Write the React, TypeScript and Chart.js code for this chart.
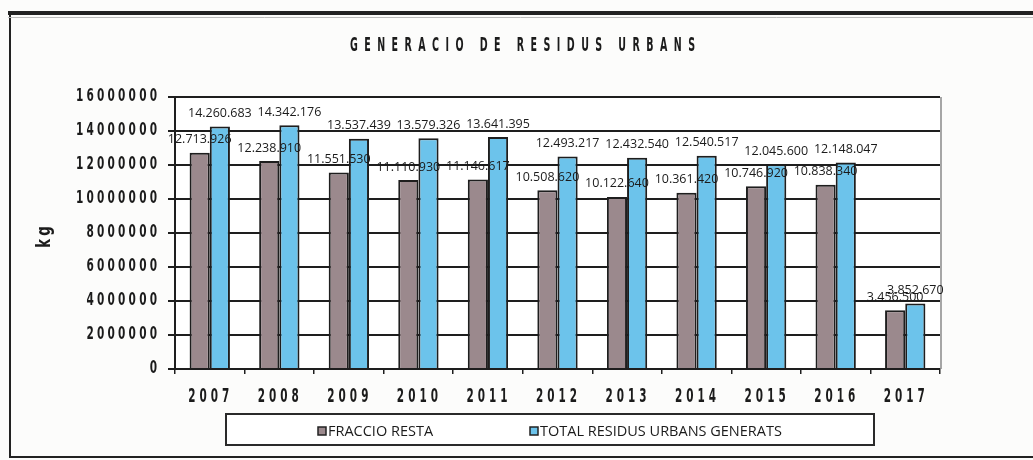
import React, { useEffect, useRef } from "react";
import { Chart, registerables } from "chart.js";

Chart.register(...registerables);

const years = ["2007", "2008", "2009", "2010", "2011", "2012", "2013", "2014", "2015", "2016", "2017"];
const fraccioResta = [12713926, 12238910, 11551530, 11110930, 11146617, 10508620, 10122640, 10361420, 10746920, 10838340, 3456500];
const totalResidus = [14260683, 14342176, 13537439, 13579326, 13641395, 12493217, 12432540, 12540517, 12045600, 12148047, 3852670];
const seriesNames = ["FRACCIO RESTA", "TOTAL RESIDUS URBANS GENERATS"];
const seriesColors = ["#9b898d", "#6cc3eb"];
const chartTitle = "GENERACIO DE RESIDUS URBANS";
const yTitle = "kg";

const W = 1033;
const H = 460;
const HEAVY = "'DejaVu Sans', sans-serif";
const INK = "#1b1b1b";

function fmt(v: number): string {
  return String(Math.round(v)).replace(/\B(?=(\d{3})+(?!\d))/g, ".");
}

// draw condensed, letter-spaced bold text
function drawSpaced(
  ctx: CanvasRenderingContext2D,
  text: string,
  x: number,
  y: number,
  align: "left" | "center" | "right",
  size: number,
  sx: number,
  spacing: number,
  totalWidth?: number
) {
  ctx.save();
  (ctx as any).letterSpacing = "0px";
  ctx.font = `bold ${size}px ${HEAVY}`;
  ctx.textAlign = "left";
  ctx.textBaseline = "middle";
  const chars = text.split("");
  const adv = chars.map((c) => ctx.measureText(c).width * sx);
  const glyphSum = adv.reduce((s, a) => s + a, 0);
  let sp = spacing;
  if (totalWidth !== undefined && chars.length > 1) {
    sp = (totalWidth - glyphSum) / (chars.length - 1);
  }
  const total = glyphSum + sp * (chars.length - 1);
  let cx = align === "left" ? x : align === "center" ? x - total / 2 : x - total;
  chars.forEach((c, i) => {
    if (c !== " ") {
      ctx.save();
      ctx.translate(cx, y);
      ctx.scale(sx, 1);
      ctx.fillText(c, 0, 0);
      ctx.restore();
    }
    cx += adv[i] + sp;
  });
  ctx.restore();
}

const decorPlugin = {
  id: "decor",
  beforeDraw(chart: any) {
    const ctx = chart.ctx;
    ctx.save();
    ctx.fillStyle = "#fcfcfb";
    ctx.fillRect(0, 0, W, H);
    ctx.strokeStyle = "#222";
    ctx.lineWidth = 4;
    ctx.beginPath();
    ctx.moveTo(8, 13);
    ctx.lineTo(W, 13);
    ctx.stroke();
    ctx.lineWidth = 2;
    ctx.beginPath();
    ctx.moveTo(10, 13);
    ctx.lineTo(10, 457);
    ctx.lineTo(W, 457);
    ctx.stroke();
    ctx.strokeStyle = "#bbb";
    ctx.lineWidth = 1;
    ctx.beginPath();
    ctx.moveTo(8, 17.5);
    ctx.lineTo(W, 17.5);
    ctx.stroke();
    const a = chart.chartArea;
    ctx.fillStyle = "#ffffff";
    ctx.fillRect(a.left, a.top, a.right - a.left, a.bottom - a.top);
    ctx.restore();
  },
  afterDraw(chart: any) {
    const ctx = chart.ctx;
    const a = chart.chartArea;
    ctx.save();
    ctx.strokeStyle = "#8a8a8a";
    ctx.lineWidth = 1.5;
    ctx.beginPath();
    ctx.moveTo(a.right + 1, a.top);
    ctx.lineTo(a.right + 1, a.bottom);
    ctx.stroke();

    // axis tick labels from the scales
    ctx.fillStyle = INK;
    const ys = chart.scales.y;
    ys.ticks.forEach((t: any, i: number) => {
      drawSpaced(ctx, String(t.label), 157, ys.getPixelForTick(i), "right", 17, 0.62, 3.2);
    });
    const xs = chart.scales.x;
    xs.ticks.forEach((t: any, i: number) => {
      drawSpaced(ctx, String(t.label), xs.getPixelForTick(i) - 1, 397, "center", 19, 0.55, 4);
    });

    // data labels
    ctx.font = "12.5px 'Open Sans', sans-serif";
    ctx.fillStyle = INK;
    ctx.textAlign = "center";
    ctx.textBaseline = "middle";
    chart.data.datasets.forEach((ds: any, di: number) => {
      const meta = chart.getDatasetMeta(di);
      meta.data.forEach((bar: any, i: number) => {
        ctx.fillText(fmt(ds.data[i]), bar.x, bar.y - 13);
      });
    });

    // title
    drawSpaced(ctx, chartTitle, 350, 46, "left", 19, 0.5, 0, 345);

    // y title
    ctx.save();
    ctx.translate(45, 237);
    ctx.rotate(-Math.PI / 2);
    drawSpaced(ctx, yTitle, 0, 0, "center", 19, 0.7, 3);
    ctx.restore();

    // legend
    ctx.strokeStyle = "#2a2a2a";
    ctx.lineWidth = 2;
    ctx.fillStyle = "#ffffff";
    ctx.fillRect(226, 414, 648, 31);
    ctx.strokeRect(226, 414, 648, 31);
    ctx.font = "14.5px 'Open Sans', sans-serif";
    ctx.textAlign = "left";
    ctx.textBaseline = "middle";
    const items = [
      { x: 318, label: seriesNames[0], color: seriesColors[0] },
      { x: 530, label: seriesNames[1], color: seriesColors[1] },
    ];
    items.forEach((it) => {
      ctx.fillStyle = it.color;
      ctx.fillRect(it.x, 427, 8, 8);
      ctx.lineWidth = 1.5;
      ctx.strokeStyle = "#222";
      ctx.strokeRect(it.x, 427, 8, 8);
      ctx.fillStyle = INK;
      ctx.fillText(it.label, it.x + 10, 431.5);
    });
    ctx.restore();
  },
};

export default function App() {
  const ref = useRef<HTMLCanvasElement | null>(null);
  useEffect(() => {
    document.body.style.margin = "0";
    const canvas = ref.current!;
    const chart = new Chart(canvas, {
      type: "bar",
      data: {
        labels: years,
        datasets: seriesNames.map((name, k) => ({
          label: name,
          data: k === 0 ? fraccioResta : totalResidus,
          backgroundColor: seriesColors[k],
          borderColor: "#1e1e1e",
          borderWidth: 2,
          categoryPercentage: 0.58,
          barPercentage: 1.0,
        })),
      },
      options: {
        animation: false,
        responsive: false,
        devicePixelRatio: 1,
        layout: { padding: { top: 97, right: 93, left: 0, bottom: 0 } },
        plugins: {
          legend: { display: false },
          title: { display: false },
          tooltip: { enabled: false },
        },
        scales: {
          x: {
            grid: {
              display: true,
              drawOnChartArea: false,
              drawTicks: true,
              tickLength: 5,
              color: "#1e1e1e",
              lineWidth: 1.5,
            },
            border: { display: true, color: "#1e1e1e", width: 2 },
            ticks: { display: false, autoSkip: false, maxRotation: 0 },
            afterFit: (scale: any) => {
              scale.height = H - 369;
            },
          },
          y: {
            min: 0,
            max: 16000000,
            grid: {
              color: "#1e1e1e",
              lineWidth: 2,
              drawTicks: true,
              tickLength: 7,
            },
            border: { display: true, color: "#1e1e1e", width: 2 },
            ticks: {
              display: false,
              stepSize: 2000000,
              callback: (v: any) => String(v),
            },
            afterFit: (scale: any) => {
              scale.width = 175;
            },
          },
        },
      },
      plugins: [decorPlugin],
    });
    return () => chart.destroy();
  }, []);
  return (
    <div style={{ position: "fixed", left: 0, top: 0, width: W, height: H }}>
      <canvas ref={ref} width={W} height={H} style={{ display: "block", width: W, height: H }} />
    </div>
  );
}
